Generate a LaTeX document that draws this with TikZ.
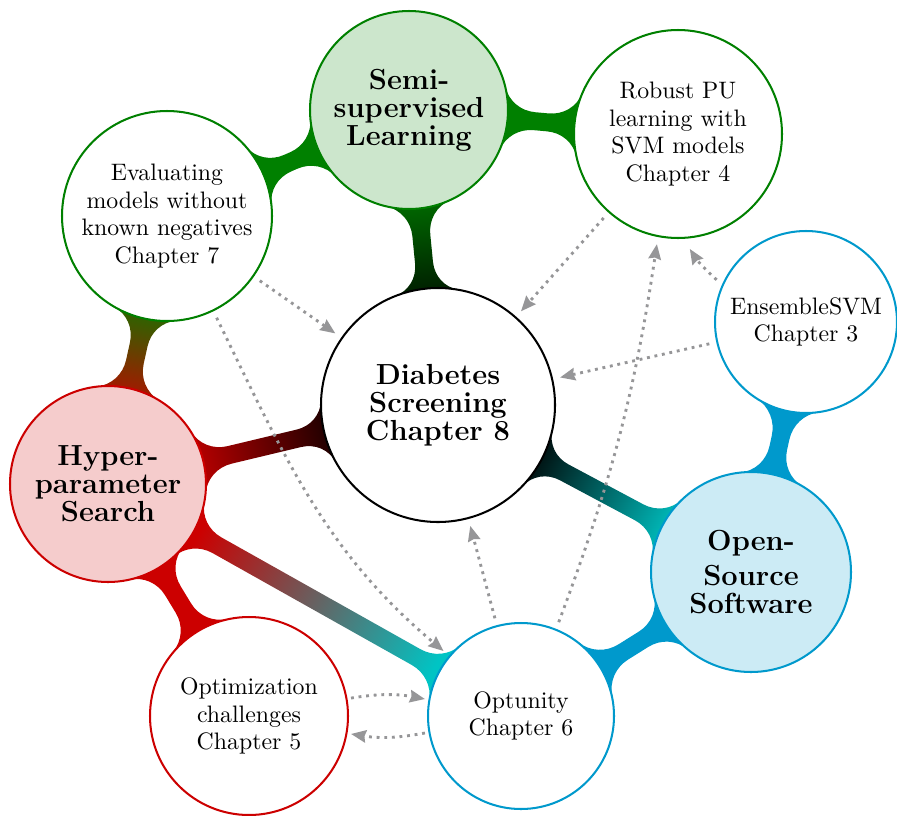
\documentclass[tikz,border=0pt]{standalone}
\usetikzlibrary{arrows.meta,backgrounds}
\definecolor{cgreen}{RGB}{0,128,0}
\definecolor{cred}{RGB}{204,0,0}
\definecolor{ccyan}{RGB}{0,153,204}
\definecolor{cturq}{RGB}{0,196,196}
\definecolor{arrgray}{RGB}{150,150,152}
\def\cbs{32}\def\cbh{9}
\newcommand\conbar[6]{%
  \path (#1.center); \pgfgetlastxy{\cbax}{\cbay}%
  \path (#3.center); \pgfgetlastxy{\cbbx}{\cbby}%
  \pgfmathsetmacro\cbang{atan2(\cbby-\cbay,\cbbx-\cbax)}%
  \pgfmathsetmacro\cbsa{\cbang+90}%
  \pgfmathsetmacro\cbD{veclen(\cbbx-\cbax,\cbby-\cbay)/0.42}%
  \pgfmathsetmacro\bA{asin(\cbs/#2)}%
  \pgfmathsetmacro\TA{(\cbs-\cbh)/cos(\bA)}%
  \pgfmathsetmacro\PAx{#2*cos(\bA)}%
  \pgfmathsetmacro\QAx{\PAx+(\cbs-\cbh)*tan(\bA)+\TA}%
  \pgfmathsetmacro\CAx{\PAx+0.62*\TA*sin(\bA)}%
  \pgfmathsetmacro\CAy{\cbs-0.62*\TA*cos(\bA)}%
  \pgfmathsetmacro\DAx{\QAx-0.6*\TA}%
  \pgfmathsetmacro\bB{asin(\cbs/#4)}%
  \pgfmathsetmacro\TB{(\cbs-\cbh)/cos(\bB)}%
  \pgfmathsetmacro\PBx{\cbD-#4*cos(\bB)}%
  \pgfmathsetmacro\QBx{\PBx-(\cbs-\cbh)*tan(\bB)-\TB}%
  \pgfmathsetmacro\CBx{\PBx-0.62*\TB*sin(\bB)}%
  \pgfmathsetmacro\CBy{\cbs-0.62*\TB*cos(\bB)}%
  \pgfmathsetmacro\DBx{\QBx+0.6*\TB}%
  \pgfmathsetmacro\IAx{0.6*#2}%
  \pgfmathsetmacro\IBx{\cbD-0.6*#4}%
  \begin{scope}[shift={(#1.center)},rotate=\cbang]
    \shade[left color=#5,right color=#6,shading angle=\cbsa]
      (\IAx,0) -- (\PAx,\cbs) .. controls (\CAx,\CAy) and (\DAx,\cbh) .. (\QAx,\cbh)
      -- (\QBx,\cbh) .. controls (\DBx,\cbh) and (\CBx,\CBy) .. (\PBx,\cbs)
      -- (\IBx,0) -- (\PBx,-\cbs) .. controls (\CBx,-\CBy) and (\DBx,-\cbh) .. (\QBx,-\cbh)
      -- (\QAx,-\cbh) .. controls (\DAx,-\cbh) and (\CAx,-\CAy) .. (\PAx,-\cbs) -- cycle;
  \end{scope}%
}
\tikzset{
  bub/.style={circle, line width=0.85pt, align=center, inner sep=0pt, text=black,
    font=\fontsize{10}{11.6}\selectfont},
  bfnode/.style={font=\fontsize{12.2}{11.8}\selectfont\bfseries},
  radpx/.style={minimum size={#1*0.84pt}},
  arr/.style={draw=arrgray, line width=1.2pt, dotted,
    -{Stealth[inset=0.6pt,length=6.3pt,width=5.2pt,fill=arrgray]},
    shorten >=3pt, shorten <=3pt},
}
\begin{document}
\begin{tikzpicture}[x=0.42pt,y=0.42pt]
\useasboundingbox (0,0) rectangle (897,-815);
\node[bub, radpx=117, draw=black, fill=white, bfnode] (diab) at (438,-405) {Diabetes\\Screening\\Chapter 8};
\node[bub, radpx=99, draw=cgreen, fill=cgreen!20, bfnode] (semi) at (409,-110) {Semi-\\supervised\\Learning};
\node[bub, radpx=104, draw=cgreen, fill=white] (rpu) at (678,-134) {Robust PU\\learning with\\SVM models\\Chapter 4};
\node[bub, radpx=91, draw=ccyan, fill=white] (esvm) at (806,-322) {EnsembleSVM\\Chapter 3};
\node[bub, radpx=100, draw=ccyan, fill=ccyan!20, bfnode] (oss) at (751,-572) {Open-\\[3pt]Source\\[-0.2pt]Software};
\node[bub, radpx=93, draw=ccyan, fill=white] (opt) at (521,-716) {Optunity\\Chapter 6};
\node[bub, radpx=99, draw=cred, fill=white] (chal) at (249,-716) {Optimization\\challenges\\Chapter 5};
\node[bub, radpx=98, draw=cred, fill=cred!20, bfnode] (hyp) at (108,-484) {Hyper-\\parameter\\Search};
\node[bub, radpx=105, draw=cgreen, fill=white] (eval) at (167,-216) {Evaluating\\models without\\known negatives\\Chapter 7};
\begin{scope}[on background layer]
  \fill[white] (0,0) rectangle (897,-815);
  \conbar{diab}{117}{semi}{99}{black}{cgreen}
  \conbar{diab}{117}{hyp}{98}{black}{cred}
  \conbar{diab}{117}{oss}{100}{black}{cturq}
  \conbar{semi}{99}{eval}{105}{cgreen}{cgreen}
  \conbar{semi}{99}{rpu}{104}{cgreen}{cgreen}
  \conbar{eval}{105}{hyp}{98}{cgreen}{cred}
  \conbar{hyp}{98}{chal}{99}{cred}{cred}
  \conbar{hyp}{98}{opt}{93}{cred}{cturq}
  \conbar{oss}{100}{esvm}{91}{ccyan}{ccyan}
  \conbar{oss}{100}{opt}{93}{ccyan}{ccyan}
\end{scope}
\draw[arr] (eval) -- (diab);
\draw[arr] (eval) to[out=-64,in=140] (opt);
\draw[arr] (rpu) -- (diab);
\draw[arr] (esvm) -- (diab);
\draw[arr, shorten >=5pt] (esvm.156) to[bend left=8] (rpu.-87);
\draw[arr] (opt) -- (diab);
\draw[arr] (opt.68) to[bend right=6] (rpu.-101);
\draw[arr, shorten >=1.5pt, shorten <=1.5pt] (chal) to[bend left=10] (opt);
\draw[arr, shorten >=1.5pt, shorten <=1.5pt] (opt) to[bend left=10] (chal);
\end{tikzpicture}
\end{document}
